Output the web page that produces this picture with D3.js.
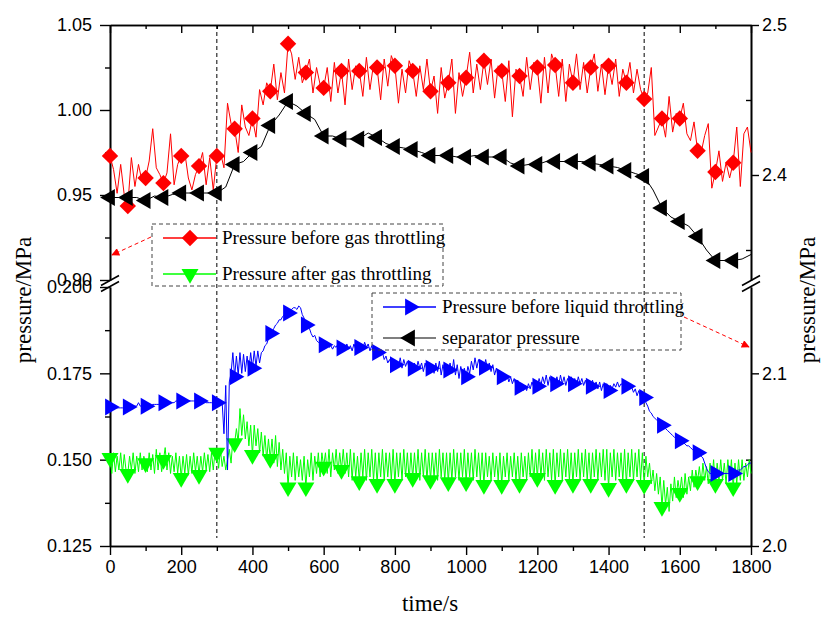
<!DOCTYPE html>
<html><head><meta charset="utf-8">
<script src="https://cdn.jsdelivr.net/npm/d3@7"></script>
<style>body{margin:0;background:#fff}svg{display:block}</style>
</head><body><svg id="c" width="823" height="617"></svg>
<script>
// ---------- DATA ----------
const xTicks = [0,200,400,600,800,1000,1200,1400,1600,1800];
const leftUpperTicks = [0.90,0.95,1.00,1.05];
const leftLowerTicks = [0.125,0.150,0.175,0.200];
const rightUpperTicks = [2.4,2.5];
const rightLowerTicks = [2.0,2.1];
const seriesNames = ["Pressure before gas throttling","Pressure after gas throttling","Pressure before liquid throttling","separator pressure"];

// marker samples every 50 s (t = 0..1750)
const markerTimes = d3.range(0,1751,50);
const redMarks = [.973,.9435,.960,.957,.973,.967,.973,.989,.995,1.011,1.039,1.022,1.013,1.023,1.023,1.025,1.026,1.023,1.011,1.016,1.019,1.029,1.023,1.020,1.025,1.0265,1.016,1.025,1.026,1.016,1.0065,.995,.995,.976,.9635,.969];
const greenMarks = [.1505,.1459,.149,.1499,.1447,.1456,.152,.1548,.1514,.1502,.142,.142,.148,.147,.1438,.143,.143,.1447,.1441,.1435,.1435,.1427,.1427,.143,.1447,.1427,.143,.143,.1418,.143,.1427,.1363,.1404,.1438,.143,.142];
const blueMarks = [2.0805,2.0805,2.081,2.083,2.084,2.084,2.083,2.098,2.103,2.123,2.135,2.128,2.1165,2.1147,2.115,2.112,2.105,2.103,2.103,2.102,2.098,2.1035,2.098,2.092,2.0925,2.094,2.094,2.0925,2.090,2.0925,2.086,2.070,2.061,2.054,2.042,2.042];
const blackMarks = [2.385,2.385,2.383,2.385,2.388,2.388,2.388,2.407,2.415,2.433,2.449,2.441,2.426,2.424,2.424,2.425,2.419,2.417,2.413,2.413,2.412,2.412,2.412,2.406,2.407,2.409,2.409,2.408,2.406,2.403,2.399,2.378,2.369,2.359,2.343,2.343];

// red line, every 10 s
const redLine = [.973,.965,.951,.968,.950,.944,.972,.955,.968,.958,
.960,.970,.989,.966,.962,.957,.963,.986,.956,.968,
.973,.975,.960,.953,.962,.967,.975,.956,.972,.953,
.973,.975,.966,1.004,.992,.989,.975,1.003,.990,.985,
.995,.984,1.012,1.003,1.016,1.011,1.027,1.006,1.022,1.010,
1.039,1.033,1.018,1.031,1.016,1.022,1.030,1.010,1.025,1.015,
1.013,1.025,1.005,1.028,1.010,1.023,1.003,1.030,1.012,1.026,
1.023,1.008,1.031,1.012,1.027,1.025,1.006,1.030,1.014,1.032,
1.026,1.004,1.024,1.010,1.029,1.023,1.008,1.026,1.012,1.030,
1.011,1.020,.998,1.025,1.007,1.016,1.030,.998,1.022,1.008,
1.019,1.034,1.010,1.027,1.012,1.029,1.015,1.030,1.007,1.026,
1.023,1.005,1.029,.996,1.024,1.020,1.008,1.031,1.012,1.028,
1.025,1.004,1.031,1.010,1.033,1.0265,1.008,1.030,1.005,1.027,
1.016,1.033,1.012,1.028,1.010,1.025,1.033,1.011,1.027,1.009,
1.026,1.015,1.030,1.008,1.024,1.016,1.028,1.010,1.024,1.012,
1.0065,1.010,1.025,.985,.990,.995,.984,1.008,.987,.998,
.995,1.004,.986,.982,.993,.976,.975,.985,.992,.954,
.9635,.976,.958,.969,.960,.969,.990,.955,.986,.990,
.975];

// separator pressure, every 25 s
const blackLine = [2.385,2.385,2.385,2.385,2.383,2.386,2.385,2.387,2.388,2.388,
2.388,2.388,2.388,2.392,2.407,2.409,2.415,2.419,2.433,2.440,
2.449,2.446,2.441,2.437,2.426,2.426,2.424,2.424,2.424,2.428,
2.425,2.421,2.419,2.418,2.417,2.415,2.413,2.413,2.413,2.412,
2.412,2.413,2.412,2.412,2.412,2.408,2.406,2.407,2.407,2.409,
2.409,2.409,2.409,2.409,2.408,2.407,2.406,2.405,2.403,2.401,
2.399,2.390,2.378,2.372,2.369,2.366,2.359,2.350,2.343,2.343,
2.343,2.344,2.347];

// liquid line, every 5 s
const blueLine = [
2.0805,2.0805,2.080,2.080,2.080,2.080,2.080,2.080,2.080,2.080,
2.0805,2.081,2.081,2.081,2.081,2.081,2.083,2.081,2.081,2.081,
2.081,2.081,2.081,2.081,2.082,2.082,2.082,2.082,2.082,2.083,
2.083,2.083,2.083,2.083,2.083,2.083,2.083,2.084,2.084,2.084,
2.084,2.084,2.084,2.084,2.084,2.084,2.084,2.084,2.084,2.084,
2.084,2.084,2.084,2.084,2.083,2.083,2.083,2.083,2.083,2.083,
2.083,2.083,2.083,2.083,2.065,2.093,2.044,2.095,2.100,2.112,
2.098,2.110,2.099,2.112,2.100,2.111,2.101,2.110,2.102,2.112,
2.103,2.113,2.104,2.113,2.106,2.112,2.113,2.116,2.117,2.120,
2.123,2.124,2.126,2.128,2.129,2.131,2.131,2.133,2.134,2.137,
2.135,2.137,2.137,2.138,2.138,2.137,2.139,2.138,2.134,2.132,
2.128,2.127,2.126,2.123,2.121,2.122,2.119,2.118,2.117,2.117,
2.1165,2.116,2.117,2.115,2.116,2.114,2.116,2.115,2.117,2.115,
2.1147,2.116,2.113,2.117,2.114,2.116,2.113,2.117,2.114,2.116,
2.115,2.117,2.114,2.118,2.115,2.117,2.113,2.116,2.112,2.114,
2.112,2.113,2.110,2.112,2.108,2.110,2.106,2.108,2.105,2.107,
2.105,2.107,2.104,2.109,2.103,2.108,2.104,2.107,2.103,2.106,
2.103,2.106,2.102,2.107,2.103,2.106,2.101,2.106,2.102,2.105,
2.103,2.105,2.100,2.106,2.101,2.107,2.099,2.105,2.100,2.104,
2.102,2.106,2.100,2.108,2.099,2.105,2.097,2.104,2.099,2.103,
2.098,2.104,2.100,2.107,2.102,2.109,2.103,2.108,2.104,2.107,
2.1035,2.108,2.102,2.106,2.101,2.105,2.099,2.103,2.098,2.101,
2.098,2.100,2.096,2.099,2.095,2.098,2.094,2.097,2.093,2.096,
2.092,2.094,2.090,2.093,2.090,2.094,2.091,2.095,2.092,2.096,
2.0925,2.097,2.093,2.098,2.094,2.099,2.093,2.098,2.094,2.097,
2.094,2.098,2.093,2.099,2.094,2.098,2.093,2.097,2.094,2.098,
2.094,2.097,2.093,2.098,2.094,2.097,2.093,2.096,2.092,2.096,
2.0925,2.096,2.092,2.095,2.091,2.095,2.090,2.094,2.090,2.094,
2.090,2.093,2.091,2.094,2.092,2.095,2.092,2.094,2.093,2.094,
2.0925,2.093,2.091,2.092,2.089,2.091,2.087,2.090,2.086,2.089,
2.086,2.083,2.081,2.078,2.077,2.075,2.074,2.073,2.072,2.071,
2.070,2.069,2.068,2.067,2.066,2.065,2.064,2.063,2.062,2.062,
2.061,2.060,2.060,2.059,2.058,2.058,2.057,2.056,2.055,2.055,
2.054,2.053,2.052,2.051,2.048,2.045,2.043,2.042,2.042,2.042,
2.042,2.042,2.042,2.042,2.042,2.042,2.042,2.042,2.042,2.042,
2.042,2.042,2.043,2.044,2.044,2.045,2.046,2.046,2.047,2.048,
2.048];

// gas after throttling, every 5 s
const greenLine = [
.1505,.146,.152,.1465,.151,.147,.152,.146,.1515,.147,
.1459,.151,.147,.152,.146,.151,.1465,.152,.147,.151,
.149,.1465,.152,.147,.1515,.146,.153,.147,.152,.1465,
.1499,.1535,.147,.152,.146,.151,.1465,.152,.146,.151,
.1447,.151,.146,.1515,.1455,.151,.146,.152,.1465,.151,
.1456,.151,.1465,.152,.147,.1515,.1465,.152,.147,.1525,
.152,.1475,.153,.148,.151,.147,.150,.153,.149,.156,
.1548,.159,.155,.1648,.157,.163,.156,.161,.154,.160,
.1514,.160,.154,.159,.152,.158,.151,.157,.150,.156,
.1502,.156,.149,.157,.148,.155,.147,.153,.146,.152,
.142,.151,.145,.152,.144,.151,.145,.150,.144,.151,
.142,.150,.145,.152,.144,.151,.146,.152,.145,.152,
.148,.152,.146,.153,.145,.152,.147,.153,.146,.152,
.147,.153,.146,.152,.145,.153,.144,.152,.145,.151,
.1438,.152,.145,.153,.144,.152,.145,.153,.144,.152,
.143,.152,.145,.153,.144,.152,.145,.152,.144,.153,
.143,.152,.145,.152,.144,.153,.145,.152,.144,.152,
.1447,.152,.145,.153,.144,.152,.145,.153,.144,.152,
.1441,.152,.145,.152,.144,.153,.145,.152,.144,.152,
.1435,.152,.144,.153,.145,.152,.144,.152,.145,.153,
.1435,.152,.145,.152,.144,.153,.145,.152,.144,.152,
.1427,.152,.145,.151,.144,.152,.145,.151,.144,.152,
.1427,.151,.145,.152,.144,.151,.145,.152,.144,.151,
.143,.152,.145,.151,.144,.152,.145,.153,.144,.152,
.1447,.153,.145,.152,.144,.153,.145,.152,.144,.153,
.1427,.152,.145,.153,.144,.152,.145,.153,.144,.152,
.143,.152,.145,.153,.144,.152,.145,.153,.144,.152,
.143,.152,.145,.153,.144,.152,.145,.153,.144,.153,
.1418,.152,.145,.153,.144,.152,.145,.152,.144,.153,
.143,.152,.145,.153,.144,.152,.145,.153,.144,.152,
.1427,.151,.145,.149,.143,.147,.141,.146,.140,.145,
.1363,.144,.137,.142,.135,.143,.138,.145,.139,.144,
.1404,.145,.139,.146,.140,.145,.141,.147,.142,.147,
.1438,.148,.143,.149,.144,.148,.143,.149,.144,.150,
.143,.149,.144,.150,.144,.149,.143,.150,.144,.150,
.142,.149,.143,.150,.144,.150,.144,.149,.145,.150,
.146];

// ---------- CHART ----------
const svg = d3.select("#c");
const L = 110, R = 751, T = 25, B = 546, breakTop = 280, breakBot = 287;
const x = d3.scaleLinear([0,1800],[L,R]);
const yLU = d3.scaleLinear([0.90,1.05],[breakTop,T]);
const yLL = d3.scaleLinear([0.125,0.200],[B,breakBot]);
const yRU = d3.scaleLinear([2.33,2.50],[breakTop,T]);
const yRL = d3.scaleLinear([2.0,2.15],[B,breakBot]);

const tickFont = "'Liberation Sans', Arial, sans-serif";
const serif = "'Liberation Serif', 'Times New Roman', serif";

function styleAxis(g){
  g.selectAll("path.domain").attr("stroke","#000").attr("stroke-width",1.6);
  g.selectAll(".tick line").attr("stroke","#000").attr("stroke-width",1.4);
  g.selectAll(".tick text").attr("font-family",tickFont).attr("font-size",18).attr("fill","#000");
}

// vertical dashed markers at 300 s and 1500 s
const vlines = [300,1500];
svg.selectAll("line.vl").data(vlines).join("line")
  .attr("x1",d=>x(d)).attr("x2",d=>x(d)).attr("y1",T).attr("y2",B-8)
  .attr("stroke","#000").attr("stroke-width",1).attr("stroke-dasharray","4,3");

// bottom axis
svg.append("g").attr("transform",`translate(0,${B})`)
  .call(d3.axisBottom(x).tickValues(d3.range(100,1800,200)).tickSize(5).tickSizeOuter(0).tickFormat(""))
  .call(styleAxis);
svg.append("g").attr("transform",`translate(0,${B})`)
  .call(d3.axisBottom(x).tickValues(xTicks).tickSize(9).tickPadding(5).tickSizeOuter(0).tickFormat(d3.format("d")))
  .call(styleAxis);
// top axis
svg.append("g").attr("transform",`translate(0,${T})`)
  .call(d3.axisTop(x).tickValues(d3.range(100,1800,200)).tickSize(-4).tickSizeOuter(0).tickFormat(""))
  .call(styleAxis);
svg.append("g").attr("transform",`translate(0,${T})`)
  .call(d3.axisTop(x).tickValues(xTicks).tickSize(-8).tickSizeOuter(0).tickFormat(""))
  .call(styleAxis);

// left axes
svg.append("g").attr("transform",`translate(${L},0)`)
  .call(d3.axisLeft(yLU).tickValues([0.925,0.975,1.025]).tickSize(5).tickSizeOuter(0).tickFormat(""))
  .call(styleAxis);
svg.append("g").attr("transform",`translate(${L},0)`)
  .call(d3.axisLeft(yLU).tickValues(leftUpperTicks).tickSize(10).tickPadding(8).tickSizeOuter(0).tickFormat(d3.format(".2f")))
  .call(styleAxis);
svg.append("g").attr("transform",`translate(${L},0)`)
  .call(d3.axisLeft(yLL).tickValues([0.1375,0.1625,0.1875]).tickSize(5).tickSizeOuter(0).tickFormat(""))
  .call(styleAxis);
svg.append("g").attr("transform",`translate(${L},0)`)
  .call(d3.axisLeft(yLL).tickValues(leftLowerTicks).tickSize(10).tickPadding(8).tickSizeOuter(0).tickFormat(d3.format(".3f")))
  .call(styleAxis);

// right axes
svg.append("g").attr("transform",`translate(${R},0)`)
  .call(d3.axisRight(yRU).tickValues([2.35,2.45]).tickSize(-5).tickSizeOuter(0).tickFormat(""))
  .call(styleAxis);
svg.append("g").attr("transform",`translate(${R},0)`)
  .call(d3.axisRight(yRU).tickValues(rightUpperTicks).tickSize(8).tickPadding(3).tickSizeOuter(0).tickFormat(d3.format(".1f")))
  .call(styleAxis);
svg.append("g").attr("transform",`translate(${R},0)`)
  .call(d3.axisRight(yRL).tickValues([2.05]).tickSize(-5).tickSizeOuter(0).tickFormat(""))
  .call(styleAxis);
svg.append("g").attr("transform",`translate(${R},0)`)
  .call(d3.axisRight(yRL).tickValues(rightLowerTicks).tickSize(8).tickPadding(3).tickSizeOuter(0).tickFormat(d3.format(".1f")))
  .call(styleAxis);

// axis break marks
[L,R].forEach(ax=>{
  [-3,3].forEach(off=>{
    svg.append("line").attr("x1",ax-9).attr("y1",(breakTop+breakBot)/2+off+5)
      .attr("x2",ax+9).attr("y2",(breakTop+breakBot)/2+off-5)
      .attr("stroke","#000").attr("stroke-width",1.6);
  });
});

// series
const diamond = d3.symbol(d3.symbolSquare,135)();
const tri = d3.symbol(d3.symbolTriangle,125)();
const series = [
  {name:seriesNames[0], line:redLine, step:10, marks:redMarks, y:yLU, color:"#ff0000", path:diamond, rot:45},
  {name:seriesNames[1], line:greenLine, step:5, marks:greenMarks, y:yLL, color:"#00ff00", path:tri, rot:180},
  {name:seriesNames[2], line:blueLine, step:5, marks:blueMarks, y:yRL, color:"#0000ff", path:tri, rot:90},
  {name:seriesNames[3], line:blackLine, step:25, marks:blackMarks, y:yRU, color:"#000000", path:tri, rot:-90}
];
series.forEach(s=>{
  const ln = d3.line().x((d,i)=>x(i*s.step)).y(d=>s.y(d));
  svg.append("path").datum(s.line).attr("d",ln).attr("fill","none")
    .attr("stroke",s.color).attr("stroke-width",1).attr("stroke-linejoin","round");
  svg.append("g").selectAll("path").data(s.marks).join("path")
    .attr("d",s.path).attr("fill",s.color)
    .attr("transform",(d,i)=>`translate(${x(markerTimes[i])},${s.y(d)}) rotate(${s.rot})`);
});

// legends
function legend(box, items){
  svg.append("rect").attr("x",box[0]).attr("y",box[1]).attr("width",box[2]).attr("height",box[3])
    .attr("fill","none").attr("stroke","#444").attr("stroke-width",1).attr("stroke-dasharray","4,3");
  items.forEach((it,k)=>{
    const yy = box[1]+14+k*(box[3]-26);
    svg.append("line").attr("x1",box[0]+11).attr("x2",box[0]+64).attr("y1",yy).attr("y2",yy)
      .attr("stroke",it.color==="#000000"?"#555":it.color).attr("stroke-width",1.5);
    svg.append("path").attr("d",it.path).attr("fill",it.color)
      .attr("transform",`translate(${box[0]+38},${yy}) rotate(${it.rot})`);
    svg.append("text").attr("x",box[0]+70).attr("y",yy).attr("dy","0.33em")
      .attr("font-family",serif).attr("font-size",19).attr("fill","#000").text(it.name);
  });
}
legend([152,224,291,62],[series[0],series[1]]);
legend([372,293,309,57],[series[2],series[3]]);

// red dashed arrows
const defs = svg.append("defs");
defs.append("marker").attr("id","ah").attr("viewBox","0 0 10 10").attr("refX",9).attr("refY",5)
  .attr("markerWidth",10).attr("markerHeight",8).attr("orient","auto").attr("markerUnits","userSpaceOnUse")
  .append("path").attr("d","M0,0L10,5L0,10z").attr("fill","#ff0000");
svg.append("line").attr("x1",151).attr("y1",237).attr("x2",112).attr("y2",255)
  .attr("stroke","#ff0000").attr("stroke-width",1).attr("stroke-dasharray","4,3").attr("marker-end","url(#ah)");
svg.append("line").attr("x1",684).attr("y1",317).attr("x2",749).attr("y2",347)
  .attr("stroke","#ff0000").attr("stroke-width",1).attr("stroke-dasharray","4,3").attr("marker-end","url(#ah)");

// axis titles
svg.append("text").attr("x",430).attr("y",611).attr("text-anchor","middle")
  .attr("font-family",serif).attr("font-size",23).text("time/s");
svg.append("text").attr("transform","translate(31,300) rotate(-90)").attr("text-anchor","middle")
  .attr("font-family",serif).attr("font-size",23).text("pressure/MPa");
svg.append("text").attr("transform","translate(815,300) rotate(-90)").attr("text-anchor","middle")
  .attr("font-family",serif).attr("font-size",23).text("pressure/MPa");
</script></body></html>
